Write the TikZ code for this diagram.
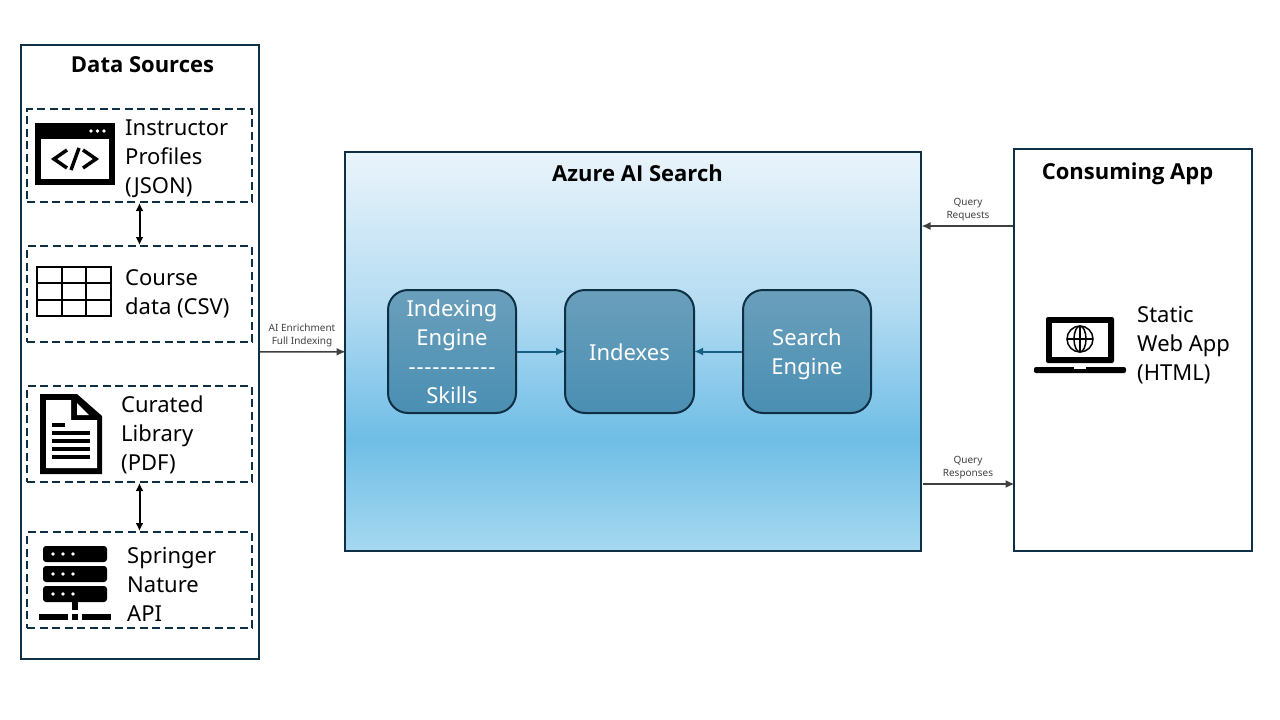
\documentclass[tikz,border=0pt]{standalone}
\usepackage{fontspec}
\setmainfont{Noto Sans}
\newfontfamily\titlefont{Open Sans}
\usetikzlibrary{arrows.meta}
\definecolor{framecol}{HTML}{0E2F44}
\definecolor{flowcol}{HTML}{156082}
\definecolor{notecol}{HTML}{404040}
\definecolor{skya}{HTML}{EAF4FB}
\definecolor{skyb}{HTML}{B5DCF2}
\definecolor{skyc}{HTML}{6FBDE6}
\definecolor{skyd}{HTML}{A6D9F0}
\definecolor{tilea}{HTML}{6A9FBB}
\definecolor{tileb}{HTML}{4A8FB3}
\pgfdeclareverticalshading{azurefade}{100bp}{color(0bp)=(skyd); color(25bp)=(skyd); color(39bp)=(skyc); color(56bp)=(skyb); color(75bp)=(skya); color(100bp)=(skya)}
\pgfdeclareverticalshading{tilefade}{100bp}{color(0bp)=(tileb); color(25bp)=(tileb); color(75bp)=(tilea); color(100bp)=(tilea)}
\newcommand{\bigtext}{\fontsize{22}{29}\selectfont}
\newcommand{\hy}{-\kern.9pt}
\tikzset{
  panel/.style={draw=framecol, line width=2pt, minimum width=#1, inner sep=0pt},
  srcbox/.style={draw=framecol, line width=2pt, dash pattern=on 8pt off 4.5pt,
    minimum width=225pt, inner sep=0pt},
  tile/.style={draw=framecol, line width=2pt, rounded corners=20pt, shading=tilefade,
    minimum width=128pt, minimum height=123pt, inner sep=0pt, text=white,
    align=center, font=\bigtext},
  paneltitle/.style={font=\titlefont\bigtext\bfseries},
  srctext/.style={anchor=west, inner sep=0pt, align=left, font=\bigtext},
  note/.style={text=notecol, align=center, inner sep=0pt,
    font=\fontsize{10}{13}\selectfont},
  pairarrow/.style={{Latex[length=8pt,width=8pt]}-{Latex[length=8pt,width=8pt]}, line width=2pt, black},
  notearrow/.style={-{Latex[length=9pt,width=8pt]}, line width=1.5pt, notecol, shorten >=-1.5pt},
  flowarrow/.style={-{Latex[length=9pt,width=8pt]}, line width=2pt, flowcol, shorten >=-1pt},
}
\begin{document}
\begin{tikzpicture}[x=1pt, y=-1pt]
    \useasboundingbox (0,0) rectangle (1280,720);
    \node [panel=238pt, minimum height=614pt] (sources) at (140,352) {};
    \node [panel=576pt, minimum height=399pt, shading=azurefade] (azure) at (633,351.5) {};
    \node [panel=238pt, minimum height=402pt] (app) at (1133,350) {};
    \node [paneltitle] (sourcestitle) at (142.5,64.5) {Data Sources};
    \node [paneltitle] (azuretitle) at (637.5,173.5) {Azure AI Search};
    \node [paneltitle] (apptitle) at (1127.5,174) {Consuming App};

    \node [srcbox, minimum height=93pt] (profiles) at (139.5,155.5) {};
    \node [srcbox, minimum height=96pt] (course) at (139.5,294) {};
    \node [srcbox, minimum height=96pt] (library) at (139.5,434) {};
    \node [srcbox, minimum height=96pt] (springer) at (139.5,580) {};
    \node [srctext] (profilestext) at (125,158.5) {Instructor\\Profiles\\(JSON)};
    \node [srctext] (coursetext) at (125,294) {Course\\data (CSV)};
    \node [srctext] (librarytext) at (121,435) {Curated\\Library\\(PDF)};
    \node [srctext] (springertext) at (127,584) {Springer\\Nature\\API};
    \node [srctext] (apptext) at (1137,345) {Static\\Web App\\(HTML)};

    \node [tile] (indexing) at (452,351.5) {Indexing\\Engine\\\hy\hy\hy\hy\hy\hy\hy\hy\hy\hy-\\Skills};
    \node [tile, minimum width=129pt, text height=18pt] (indexes) at (629.5,351.5) {Indexes};
    \node [tile, text depth=0.5pt] (search) at (807,351.5) {Search\\Engine};

    \draw [pairarrow] (profiles) -- (course);
    \draw [pairarrow] (library) -- (springer);
    \draw [flowarrow] (indexing) -- (indexes);
    \draw [flowarrow] (search) -- (indexes);
    \draw [notearrow] (sources) -- node [note, above=4pt] (enrichnote) {AI Enrichment\\Full Indexing} (azure);
    \coordinate (reqend) at (923,226);
    \coordinate (respstart) at (923,484);
    \draw [notearrow] (app.west |- reqend) -- node [note, above=4pt] (reqnote) {Query\\Requests} (reqend);
    \draw [notearrow] (respstart) -- node [note, above=4pt] (respnote) {Query\\Responses} (app.west |- respstart);

    \fill (35,123) rectangle (115,185);
    \fill [white] (41,139) rectangle (109,179);
    \foreach \dotx in {91,97.5,104} {
      \fill [white] (\dotx,131) circle (1.9);
    }
    \draw [line width=3.5pt] (67,150) -- (54,159) -- (67,168);
    \draw [line width=3.5pt] (83,150) -- (96,159) -- (83,168);
    \draw [line width=3.5pt] (79,148) -- (71,170);

    \draw [line width=2pt] (37,267) rectangle (111,316);
    \foreach \gridx in {62,86} {
      \draw [line width=2pt] (\gridx,267) -- (\gridx,316);
    }
    \foreach \gridy in {283,300} {
      \draw [line width=2pt] (37,\gridy) -- (111,\gridy);
    }

    \fill (40,394) -- (77,394) -- (102,416) -- (102,474) -- (40,474) -- cycle;
    \fill [white] (46,400) -- (71,400) -- (71,420) -- (97,420) -- (97,468) -- (46,468) -- cycle;
    \fill [white] (77,403) -- (77,415) -- (89,415) -- cycle;
    \fill (52,423) rectangle (65,427);
    \foreach \liney in {433,441,449,457} {
      \fill (52,\liney-2) rectangle (90,\liney+2);
    }

    \foreach \racky in {546,566,586} {
      \fill [rounded corners=3pt] (43,\racky) rectangle (107,\racky+16);
      \foreach \dotx in {53,63,73} {
        \fill [white] (\dotx,\racky+8) circle (1.9);
      }
    }
    \fill (72,602) rectangle (78,610);
    \fill (72,614) rectangle (78,620);
    \fill (39,614) rectangle (68,620);
    \fill (82,614) rectangle (111,620);

    \fill [rounded corners=2pt] (1046,317) rectangle (1114,363);
    \fill [white] (1052,323) rectangle (1108,357);
    \fill [rounded corners=2pt] (1034,367) rectangle (1126,373);
    \fill [white] (1074,367) rectangle (1086,369);
    \draw [line width=1.5pt] (1080,339) circle (13);
    \draw [line width=1.5pt] (1080,339) ellipse (6 and 13);
    \draw [line width=1.5pt] (1067,339) -- (1093,339);
    \draw [line width=1.5pt] (1080,326) -- (1080,352);
\end{tikzpicture}
\end{document}
